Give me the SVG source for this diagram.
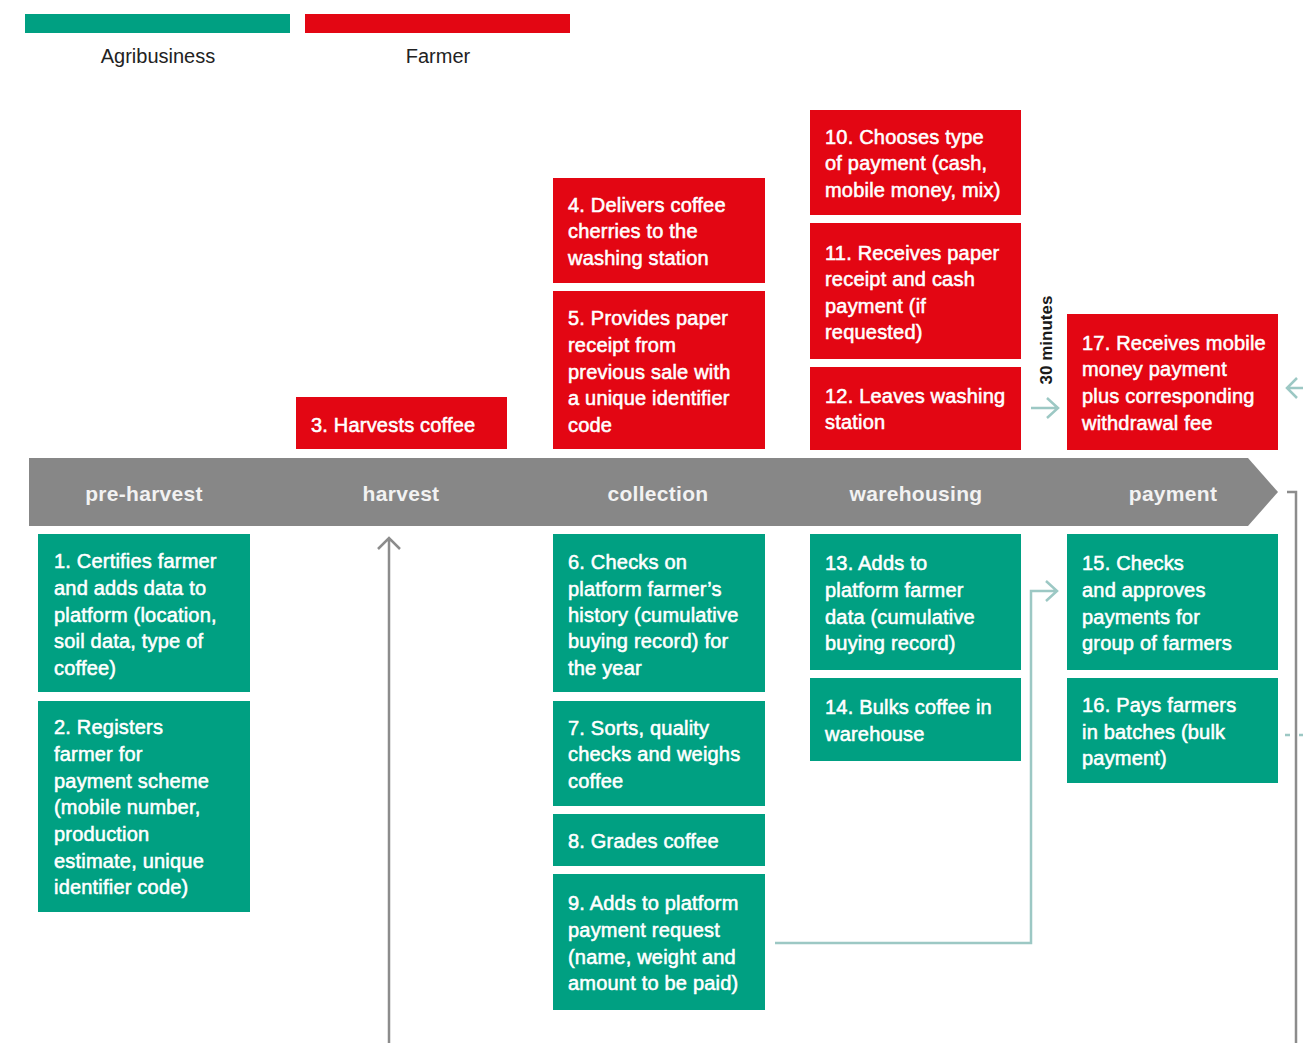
<svg xmlns="http://www.w3.org/2000/svg" width="1303" height="1043" viewBox="0 0 1303 1043">
<style>
.g{fill:#00a082}
.r{fill:#e30613}
.t{font-family:"Liberation Sans",Arial,sans-serif;font-size:20px;fill:#fff;stroke:#fff;stroke-width:0.55;letter-spacing:0.2px}
.ph{font-family:"Liberation Sans",Arial,sans-serif;font-size:21px;font-weight:bold;fill:#f2f2f2;text-anchor:middle;letter-spacing:0.3px}
.lg{font-family:"Liberation Sans",Arial,sans-serif;font-size:20px;fill:#222;text-anchor:middle}
.teal{stroke:#9cc8c4;stroke-width:2.5;fill:none}
.gray{stroke:#8c8c8c;stroke-width:2.5;fill:none}
</style>
<rect width="1303" height="1043" fill="#fff"/>
<g id="legend">
<rect x="25" y="14" width="265" height="19" class="g"/>
<rect x="305" y="14" width="265" height="19" class="r"/>
<text x="158" y="63" class="lg">Agribusiness</text>
<text x="438" y="63" class="lg">Farmer</text>
</g>
<g id="timeline">
<polygon points="29,458 1248,458 1278,492 1248,526 29,526" fill="#878787"/>
<text x="144" y="501" class="ph">pre-harvest</text>
<text x="401" y="501" class="ph">harvest</text>
<text x="658" y="501" class="ph">collection</text>
<text x="916" y="501" class="ph">warehousing</text>
<text x="1173" y="501" class="ph">payment</text>
</g>
<g id="n3"><rect x="296" y="397" width="211" height="52" class="r"/><text class="t" x="311" y="432">3. Harvests coffee</text></g>
<g id="n4"><rect x="553" y="178" width="212" height="105" class="r"/><text class="t"><tspan x="568" y="212">4. Delivers coffee</tspan><tspan x="568" y="238">cherries to the</tspan><tspan x="568" y="265">washing station</tspan></text></g>
<g id="n5"><rect x="553" y="291" width="212" height="158" class="r"/><text class="t"><tspan x="568" y="325">5. Provides paper</tspan><tspan x="568" y="352">receipt from</tspan><tspan x="568" y="379">previous sale with</tspan><tspan x="568" y="405">a unique identifier</tspan><tspan x="568" y="432">code</tspan></text></g>
<g id="n10"><rect x="810" y="110" width="211" height="105" class="r"/><text class="t"><tspan x="825" y="144">10. Chooses type</tspan><tspan x="825" y="170">of payment (cash,</tspan><tspan x="825" y="197">mobile money, mix)</tspan></text></g>
<g id="n11"><rect x="810" y="223" width="211" height="136" class="r"/><text class="t"><tspan x="825" y="260">11. Receives paper</tspan><tspan x="825" y="286">receipt and cash</tspan><tspan x="825" y="313">payment (if</tspan><tspan x="825" y="339">requested)</tspan></text></g>
<g id="n12"><rect x="810" y="367" width="211" height="83" class="r"/><text class="t"><tspan x="825" y="403">12. Leaves washing</tspan><tspan x="825" y="429">station</tspan></text></g>
<g id="n17"><rect x="1067" y="314" width="211" height="136" class="r"/><text class="t"><tspan x="1082" y="350">17. Receives mobile</tspan><tspan x="1082" y="376">money payment</tspan><tspan x="1082" y="403">plus corresponding</tspan><tspan x="1082" y="430">withdrawal fee</tspan></text></g>
<g id="n1"><rect x="38" y="534" width="212" height="158" class="g"/><text class="t"><tspan x="54" y="568">1. Certifies farmer</tspan><tspan x="54" y="595">and adds data to</tspan><tspan x="54" y="622">platform (location,</tspan><tspan x="54" y="648">soil data, type of</tspan><tspan x="54" y="675">coffee)</tspan></text></g>
<g id="n2"><rect x="38" y="701" width="212" height="211" class="g"/><text class="t"><tspan x="54" y="734">2. Registers</tspan><tspan x="54" y="761">farmer for</tspan><tspan x="54" y="788">payment scheme</tspan><tspan x="54" y="814">(mobile number,</tspan><tspan x="54" y="841">production</tspan><tspan x="54" y="868">estimate, unique</tspan><tspan x="54" y="894">identifier code)</tspan></text></g>
<g id="n6"><rect x="553" y="534" width="212" height="158" class="g"/><text class="t"><tspan x="568" y="569">6. Checks on</tspan><tspan x="568" y="596">platform farmer’s</tspan><tspan x="568" y="622">history (cumulative</tspan><tspan x="568" y="648">buying record) for</tspan><tspan x="568" y="675">the year</tspan></text></g>
<g id="n7"><rect x="553" y="701" width="212" height="105" class="g"/><text class="t"><tspan x="568" y="735">7. Sorts, quality</tspan><tspan x="568" y="761">checks and weighs</tspan><tspan x="568" y="788">coffee</tspan></text></g>
<g id="n8"><rect x="553" y="814" width="212" height="52" class="g"/><text class="t" x="568" y="848">8. Grades coffee</text></g>
<g id="n9"><rect x="553" y="874" width="212" height="136" class="g"/><text class="t"><tspan x="568" y="910">9. Adds to platform</tspan><tspan x="568" y="937">payment request</tspan><tspan x="568" y="964">(name, weight and</tspan><tspan x="568" y="990">amount to be paid)</tspan></text></g>
<g id="n13"><rect x="810" y="534" width="211" height="136" class="g"/><text class="t"><tspan x="825" y="570">13. Adds to</tspan><tspan x="825" y="597">platform farmer</tspan><tspan x="825" y="624">data (cumulative</tspan><tspan x="825" y="650">buying record)</tspan></text></g>
<g id="n14"><rect x="810" y="678" width="211" height="83" class="g"/><text class="t"><tspan x="825" y="714">14. Bulks coffee in</tspan><tspan x="825" y="741">warehouse</tspan></text></g>
<g id="n15"><rect x="1067" y="534" width="211" height="136" class="g"/><text class="t"><tspan x="1082" y="570">15. Checks</tspan><tspan x="1082" y="597">and approves</tspan><tspan x="1082" y="624">payments for</tspan><tspan x="1082" y="650">group of farmers</tspan></text></g>
<g id="n16"><rect x="1067" y="678" width="211" height="105" class="g"/><text class="t"><tspan x="1082" y="712">16. Pays farmers</tspan><tspan x="1082" y="739">in batches (bulk</tspan><tspan x="1082" y="765">payment)</tspan></text></g>
<g id="connectors">
<path class="gray" d="M389,538 V1043 M378,549 L389,538 L400,549"/>
<path class="teal" d="M775,943 H1031 V591 H1057 M1046,581 L1057,591 L1046,601"/>
<path class="teal" d="M1031,408 H1058 M1047,398 L1058,408 L1047,418"/>
<text x="0" y="0" transform="translate(1052,340) rotate(-90)" font-family="Liberation Sans,Arial,sans-serif" font-size="17" font-weight="bold" fill="#1a1a1a" text-anchor="middle">30 minutes</text>
<path class="teal" d="M1303,388 H1287 M1297,378 L1287,388 L1297,398"/>
<path class="gray" d="M1287,492 H1296 V1043"/>
<path class="teal" stroke-dasharray="5,9" d="M1285,735 H1303"/>
</g>
</svg>
